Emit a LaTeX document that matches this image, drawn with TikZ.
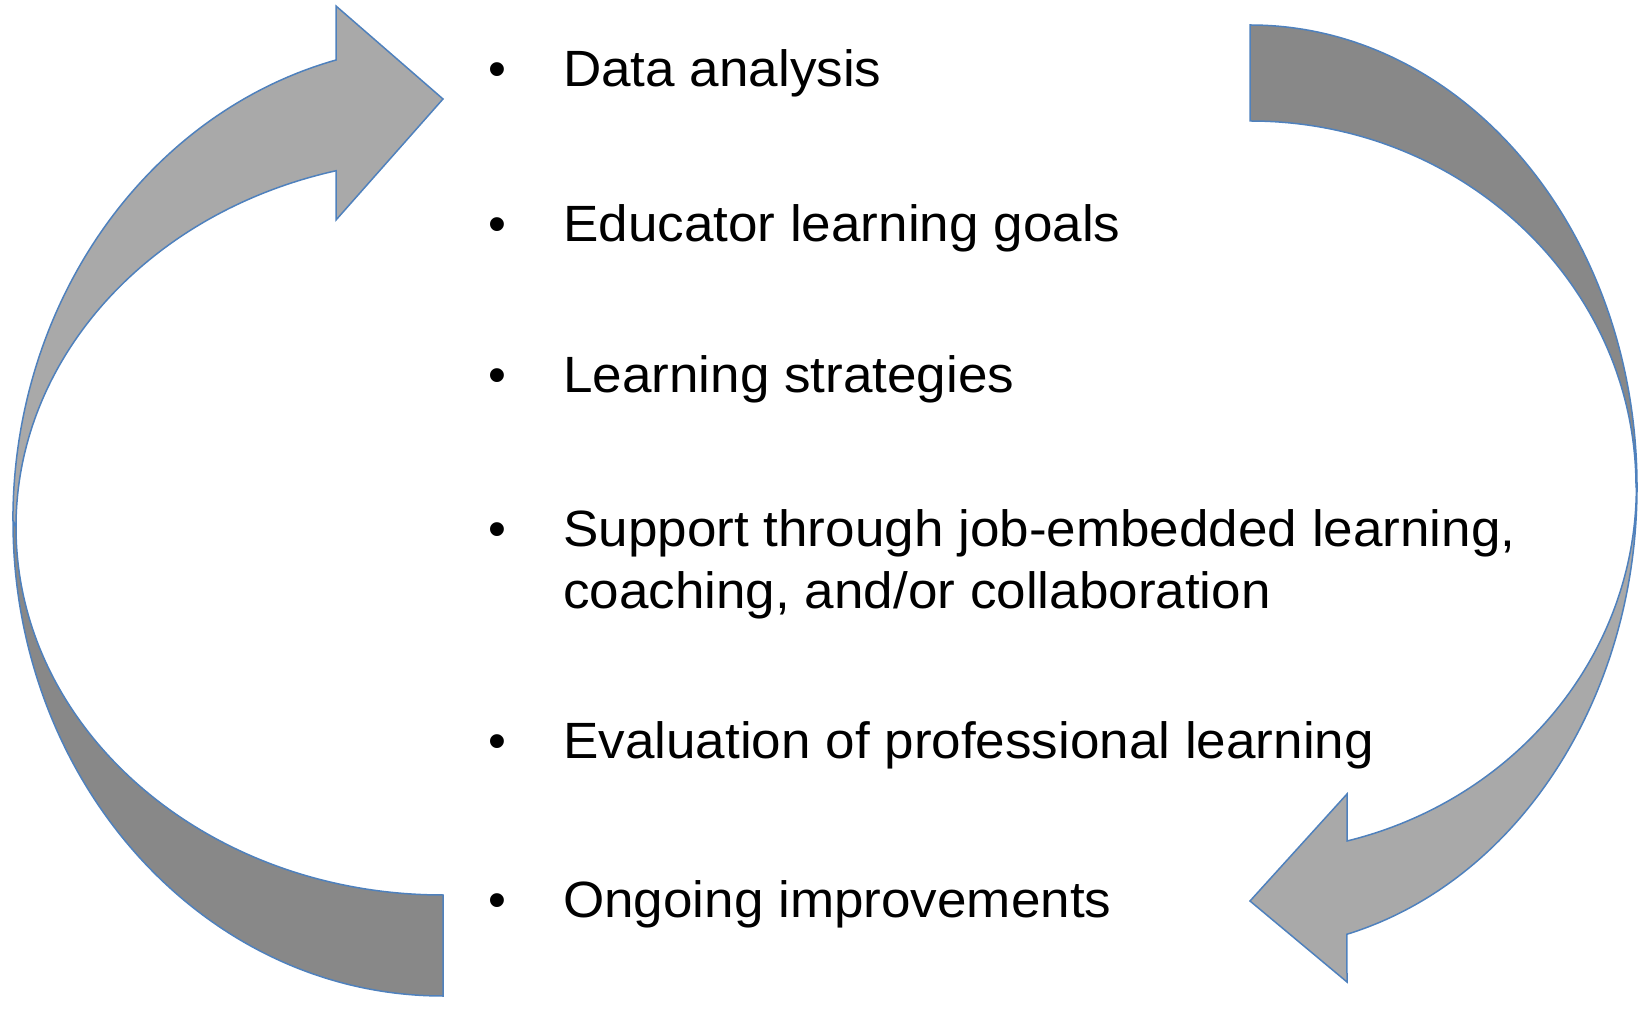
\documentclass[tikz,border=0pt]{standalone}
\usepackage{fontspec}
\setmainfont{Liberation Sans}
\newfontfamily\listfont[FakeStretch=1.04]{Liberation Sans}
\usetikzlibrary{positioning}
\definecolor{bandlight}{RGB}{169,169,169}
\definecolor{banddark}{RGB}{136,136,136}
\definecolor{bandedge}{RGB}{79,129,189}
\tikzset{
  band/.style={draw=bandedge, line width=1.5pt, line join=miter},
  item/.style={anchor=base west, inner sep=0pt, align=left,
    font=\listfont\fontsize{51}{62}\selectfont},
  dot/.style={anchor=base, inner sep=0pt, font=\fontsize{51}{62}\selectfont}
}

\begin{document}
\begin{tikzpicture}[x=1pt, y=1pt]
\useasboundingbox (0,0) rectangle (1648,1015);
\def\bx{497.5}   % bullet centre x
\def\tx{563}     % text left x
%% Left arrow: back half (dark), lower left
\filldraw[band, fill=banddark]
  (13,494) arc[start angle=180, end angle=270, x radius=430, y radius=475]
  -- (443,120) arc[start angle=270, end angle=180, x radius=427, y radius=368]
  -- cycle;
%% Left arrow: front half (light) with head
\filldraw[band, fill=bandlight]
  (336,955) arc[start angle=104.4, end angle=180, x radius=430, y radius=475]
  -- (16,488) arc[start angle=180, end angle=104.5, x radius=427, y radius=368]
  -- (336,795) -- (443,916) -- (336,1009) -- cycle;
%% Right arrow: back half (dark), upper right
\filldraw[band, fill=banddark]
  (1250,990) arc[start angle=90, end angle=0, x radius=387, y radius=462]
  -- (1636,528) arc[start angle=0, end angle=90, x radius=386, y radius=366]
  -- cycle;
%% Right arrow: front half (light) with head
\filldraw[band, fill=bandlight]
  (1637,528) arc[start angle=0, end angle=-75.5, x radius=387, y radius=462]
  -- (1347,33) -- (1250,114) -- (1347,221) -- (1347,174)
  arc[start angle=-75.5, end angle=0, x radius=386, y radius=366] -- cycle;
%% Bulleted list
\node[dot] (dot1) at (\bx,928) {•};
\node[item] (data) at (\tx,928) {Data analysis};
\node[dot] (dot2) at (\bx,773) {•};
\node[item] (goals) at (\tx,773) {Educator learning goals};
\node[dot] (dot3) at (\bx,622) {•};
\node[item] (strategies) at (\tx,622) {Learning strategies};
\node[dot] (dot4) at (\bx,468) {•};
%% base of a two-line node is its last line
\node[item] (support) at (\tx,406)
  {Support through job-embedded learning,\\coaching, and/or collaboration};
\node[dot] (dot5) at (\bx,257) {•};
\node[item] (evaluation) at (\tx,257) {Evaluation of professional learning};
\node[dot] (dot6) at (\bx,98) {•};
\node[item] (improve) at (\tx,98) {Ongoing improvements};
\end{tikzpicture}
\end{document}
